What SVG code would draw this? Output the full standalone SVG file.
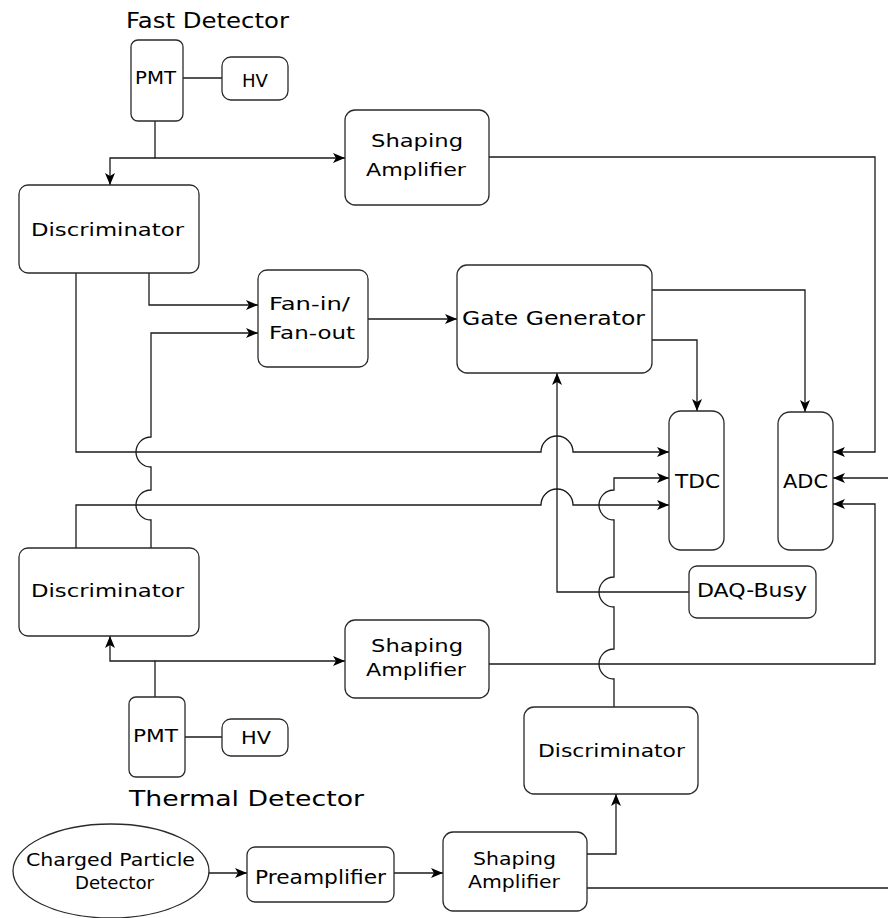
<svg xmlns="http://www.w3.org/2000/svg" width="888" height="918" viewBox="0 0 888 918">
  <defs>
    <style>
      .box { fill: #ffffff; stroke: #2a2a2a; stroke-width: 1.3; }
      .wire { fill: none; stroke: #1a1a1a; stroke-width: 1.3; }
      .arrow { fill: none; stroke: #1a1a1a; stroke-width: 1.3; marker-end: url(#ah); }
      text { font-family: "DejaVu Sans", Verdana, sans-serif; fill: #000000; }
    </style>
    <marker id="ah" viewBox="0 0 12 10" refX="12" refY="5" markerWidth="12" markerHeight="10" markerUnits="userSpaceOnUse" orient="auto">
      <path d="M0,0 L12,5 L0,10 L3,5 z" fill="#000000"/>
    </marker>
  </defs>

  <rect width="888" height="918" fill="#ffffff"/>

  <!-- Section titles -->
  <text x="126" y="28" font-size="22" textLength="163" lengthAdjust="spacingAndGlyphs">Fast Detector</text>
  <text x="129" y="806" font-size="22" textLength="235" lengthAdjust="spacingAndGlyphs">Thermal Detector</text>

  <!-- Connectors -->
  <g id="connectors">
    <!-- fast PMT -->
    <path class="wire" d="M183,78 H222"/>
    <path class="arrow" d="M155,121 V158 H345"/>
    <path class="arrow" d="M155,158 H110 V185"/>
    <!-- shaping amplifier 1 to ADC -->
    <path class="arrow" d="M489,157 H875 V452 H833"/>
    <!-- discriminator 1 to TDC -->
    <path class="arrow" d="M76,273 V452 H541 A16,16 0 0 1 573,452 H669"/>
    <!-- discriminator 1 to fan-in -->
    <path class="arrow" d="M149,273 V305 H258"/>
    <!-- discriminator 2 to fan-in, hopping two wires -->
    <path class="arrow" d="M151,548 V520 A15,15 0 0 1 151,490 V467 A15,15 0 0 1 151,437 V333 H258"/>
    <!-- fan-out to gate generator -->
    <path class="arrow" d="M368,319 H457"/>
    <!-- gate generator outputs -->
    <path class="arrow" d="M652,290 H805 V412"/>
    <path class="arrow" d="M652,340 H697 V411"/>
    <!-- discriminator 2 to TDC -->
    <path class="arrow" d="M76,548 V505 H541 A16,16 0 0 1 573,505 H669"/>
    <!-- discriminator 3 to TDC, hopping three wires -->
    <path class="arrow" d="M614,707 V679 A15,15 0 0 1 614,649 V607 A15,15 0 0 1 614,577 V520 A15,15 0 0 1 614,490 V478 H669"/>
    <!-- DAQ busy to gate generator -->
    <path class="arrow" d="M689,592 H557 V373"/>
    <!-- shaping amplifier 2 to ADC -->
    <path class="arrow" d="M489,664 H875 V504 H833"/>
    <!-- external input to ADC -->
    <path class="arrow" d="M888,478 H833"/>
    <!-- thermal PMT -->
    <path class="arrow" d="M155,697 V661 H345"/>
    <path class="arrow" d="M155,661 H110 V636"/>
    <path class="wire" d="M185,737 H222"/>
    <!-- charged particle chain -->
    <path class="arrow" d="M208,873 H247"/>
    <path class="arrow" d="M394,873 H443"/>
    <path class="arrow" d="M587,854 H616 V794"/>
    <path class="wire" d="M587,888 H888"/>
  </g>

  <!-- Fast detector -->
  <g id="pmt-fast">
    <rect class="box" x="131" y="40" width="52" height="81" rx="7"/>
    <text x="135" y="84" font-size="18" textLength="41" lengthAdjust="spacingAndGlyphs">PMT</text>
  </g>
  <g id="hv-fast">
    <rect class="box" x="222" y="57" width="66" height="43" rx="9"/>
    <text x="242" y="87" font-size="18" textLength="26" lengthAdjust="spacingAndGlyphs">HV</text>
  </g>
  <g id="shaping-fast">
    <rect class="box" x="345" y="110" width="144" height="95" rx="10"/>
    <text x="371" y="147" font-size="18" textLength="92" lengthAdjust="spacingAndGlyphs">Shaping</text>
    <text x="366" y="176" font-size="18" textLength="100" lengthAdjust="spacingAndGlyphs">Amplifier</text>
  </g>
  <g id="disc-fast">
    <rect class="box" x="19" y="185" width="180" height="88" rx="9"/>
    <text x="31" y="236" font-size="18" textLength="153" lengthAdjust="spacingAndGlyphs">Discriminator</text>
  </g>
  <g id="fan">
    <rect class="box" x="258" y="270" width="110" height="97" rx="9"/>
    <text x="269" y="310" font-size="18" textLength="81" lengthAdjust="spacingAndGlyphs">Fan-in/</text>
    <text x="269" y="339" font-size="18" textLength="86" lengthAdjust="spacingAndGlyphs">Fan-out</text>
  </g>
  <g id="gate">
    <rect class="box" x="457" y="265" width="195" height="108" rx="10"/>
    <text x="462" y="325" font-size="19" textLength="183" lengthAdjust="spacingAndGlyphs">Gate Generator</text>
  </g>
  <g id="tdc">
    <rect class="box" x="669" y="411" width="55" height="139" rx="12"/>
    <text x="675" y="488" font-size="19" textLength="45" lengthAdjust="spacingAndGlyphs">TDC</text>
  </g>
  <g id="adc">
    <rect class="box" x="778" y="412" width="55" height="138" rx="12"/>
    <text x="783" y="488" font-size="19" textLength="45" lengthAdjust="spacingAndGlyphs">ADC</text>
  </g>
  <g id="daq-busy">
    <rect class="box" x="689" y="566" width="127" height="52" rx="8"/>
    <text x="697" y="597" font-size="19" textLength="110" lengthAdjust="spacingAndGlyphs">DAQ-Busy</text>
  </g>

  <!-- Thermal detector -->
  <g id="disc-thermal">
    <rect class="box" x="19" y="548" width="180" height="88" rx="9"/>
    <text x="31" y="597" font-size="18" textLength="153" lengthAdjust="spacingAndGlyphs">Discriminator</text>
  </g>
  <g id="shaping-thermal">
    <rect class="box" x="345" y="620" width="144" height="78" rx="10"/>
    <text x="371" y="652" font-size="18" textLength="92" lengthAdjust="spacingAndGlyphs">Shaping</text>
    <text x="366" y="676" font-size="18" textLength="100" lengthAdjust="spacingAndGlyphs">Amplifier</text>
  </g>
  <g id="pmt-thermal">
    <rect class="box" x="129" y="697" width="56" height="80" rx="7"/>
    <text x="133" y="742" font-size="18" textLength="45" lengthAdjust="spacingAndGlyphs">PMT</text>
  </g>
  <g id="hv-thermal">
    <rect class="box" x="222" y="719" width="66" height="37" rx="9"/>
    <text x="241" y="744" font-size="18" textLength="30" lengthAdjust="spacingAndGlyphs">HV</text>
  </g>

  <!-- Charged particle chain -->
  <g id="disc-charged">
    <rect class="box" x="524" y="707" width="174" height="87" rx="10"/>
    <text x="538" y="757" font-size="18" textLength="147" lengthAdjust="spacingAndGlyphs">Discriminator</text>
  </g>
  <g id="charged-detector">
    <ellipse class="box" cx="111" cy="871" rx="98" ry="47"/>
    <text x="26" y="866" font-size="17" textLength="169" lengthAdjust="spacingAndGlyphs">Charged Particle</text>
    <text x="75" y="889" font-size="17" textLength="79" lengthAdjust="spacingAndGlyphs">Detector</text>
  </g>
  <g id="preamp">
    <rect class="box" x="247" y="847" width="147" height="55" rx="8"/>
    <text x="255" y="884" font-size="19" textLength="131" lengthAdjust="spacingAndGlyphs">Preamplifier</text>
  </g>
  <g id="shaping-charged">
    <rect class="box" x="443" y="832" width="144" height="79" rx="10"/>
    <text x="473" y="865" font-size="17" textLength="83" lengthAdjust="spacingAndGlyphs">Shaping</text>
    <text x="468" y="888" font-size="17" textLength="92" lengthAdjust="spacingAndGlyphs">Amplifier</text>
  </g>
</svg>
